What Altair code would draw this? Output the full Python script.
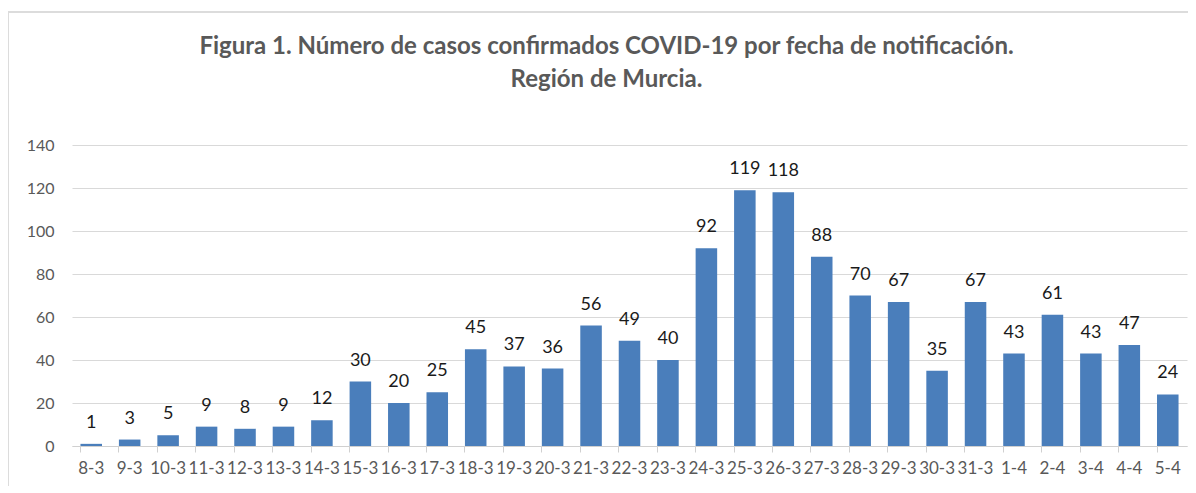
import altair as alt
import pandas as pd

fechas = ["8-3", "9-3", "10-3", "11-3", "12-3", "13-3", "14-3", "15-3", "16-3", "17-3",
          "18-3", "19-3", "20-3", "21-3", "22-3", "23-3", "24-3", "25-3", "26-3", "27-3",
          "28-3", "29-3", "30-3", "31-3", "1-4", "2-4", "3-4", "4-4", "5-4"]
casos = [1, 3, 5, 9, 8, 9, 12, 30, 20, 25, 45, 37, 36, 56, 49, 40, 92, 119, 118, 88,
         70, 67, 35, 67, 43, 61, 43, 47, 24]
titulo = ["Figura 1. Número de casos confirmados  COVID-19 por fecha de notificación.",
          "Región de Murcia."]

df = pd.DataFrame({"fecha": fechas, "casos": casos})

FONT = "Lato"
W, H = 1115, 301

x = alt.X("fecha:N", sort=fechas, title=None,
          scale=alt.Scale(paddingInner=0.44, paddingOuter=0.22),
          axis=alt.Axis(labelAngle=0, labelOverlap=False, labelFont=FONT, labelFontSize=17,
                        labelColor="#595959", labelPadding=8, domainColor="#d0d0d0",
                        tickColor="#d0d0d0", tickSize=6, bandPosition=0, labelFlush=False,
                        grid=False))
y = alt.Y("casos:Q", title=None,
          scale=alt.Scale(domain=[0, 140], nice=False),
          axis=alt.Axis(values=list(range(0, 141, 20)), labelFont=FONT, labelFontSize=16,
                        labelColor="#595959", labelPadding=18, domain=False, ticks=False,
                        gridColor="#d9d9d9", gridWidth=1))

bars = alt.Chart(df).mark_bar(color="#4A7EBB").encode(x=x, y=y)
labels = alt.Chart(df).mark_text(font=FONT, fontSize=18, color="#1a1a1a", dy=-12,
                                 baseline="bottom").encode(x=x, y=y, text="casos:Q")

one = pd.DataFrame({"k": [0]})
frame_top = alt.Chart(one).mark_rule(color="#dcdcdc", strokeWidth=2).encode(
    x=alt.value(-64), x2=alt.value(W + 1), y=alt.value(-133))
frame_left = alt.Chart(one).mark_rule(color="#dcdcdc", strokeWidth=2).encode(
    x=alt.value(-64), y=alt.value(-133), y2=alt.value(H + 40))

title_df = pd.DataFrame({"t": titulo, "line": [0, 1]})
title_l1 = alt.Chart(pd.DataFrame({"t": [titulo[0]]})).mark_text(
    font=FONT, fontSize=24, fontWeight="bold", color="#595959", align="center",
    baseline="middle").encode(x=alt.value(W / 2 - 23), y=alt.value(-98), text="t:N")
title_l2 = alt.Chart(pd.DataFrame({"t": [titulo[1]]})).mark_text(
    font=FONT, fontSize=24, fontWeight="bold", color="#595959", align="center",
    baseline="middle").encode(x=alt.value(W / 2 - 23), y=alt.value(-65), text="t:N")

chart = (frame_top + frame_left + title_l1 + title_l2 + bars + labels).properties(
    width=W, height=H,
    autosize=alt.AutoSizeParams(type="none"),
    padding={"left": 64, "top": 137, "right": 1, "bottom": 40},
    background="white",
).configure_view(stroke=None)

chart.save("out.html", embed_options={"renderer": "svg", "actions": False})
